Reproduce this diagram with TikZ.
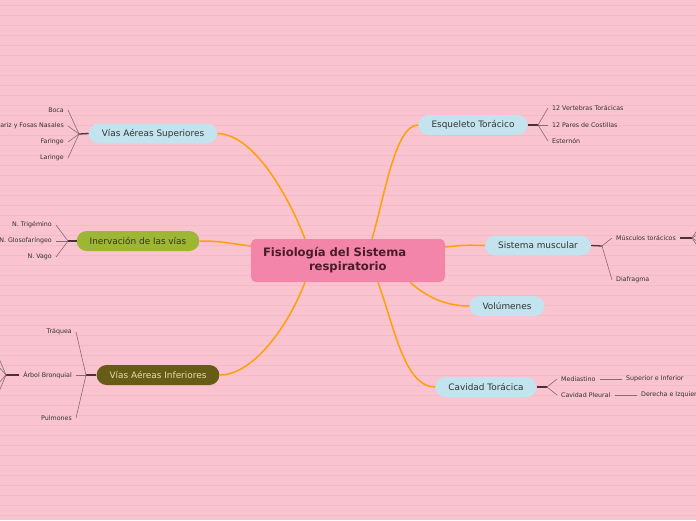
\documentclass[tikz,border=0pt]{standalone}
\usepackage{fontspec}
\setmainfont{DejaVu Sans}
\usetikzlibrary{calc}

\definecolor{bgpink}{HTML}{F9C3CF}
\definecolor{stripe}{HTML}{F4BAC8}
\definecolor{branchorange}{HTML}{FFA008}
\definecolor{rootpink}{HTML}{F285A9}
\definecolor{roottext}{HTML}{4A1C28}
\definecolor{paleblue}{HTML}{C3E4EE}
\definecolor{leafgreen}{HTML}{9DB634}
\definecolor{olive}{HTML}{675C16}
\definecolor{olivetext}{HTML}{E6DDA8}
\definecolor{inkdark}{HTML}{333333}
\definecolor{stubdark}{HTML}{4B3038}
\definecolor{twiggray}{HTML}{8A6A72}

\tikzset{
  topic/.style={rounded corners=10pt, fill=paleblue, minimum height=20pt, inner xsep=13pt, inner ysep=0pt,
    font=\fontsize{8.9}{10}\selectfont, text=inkdark},
  leaf/.style={inner xsep=4pt, inner ysep=1pt, font=\fontsize{6.3}{7}\selectfont, text=inkdark},
  branch/.style={draw=branchorange, line width=1.5pt},
  stub/.style={draw=stubdark, line width=1.3pt},
  twig/.style={draw=twiggray, line width=0.6pt},
}

\begin{document}
\begin{tikzpicture}[x=1pt,y=-1pt]
  \useasboundingbox (0,0) rectangle (696,520);
  \clip (0,0) rectangle (696,520);
  \fill[bgpink] (0,0) rectangle (696,520);
  \foreach \y in {5,15,...,515}
    \draw[stripe, line width=0.5pt] (0,\y) -- (696,\y);

  \node[rounded corners=5pt, fill=rootpink, minimum height=43pt, text width=170pt, inner xsep=12pt,
    align=left, text=roottext, font=\bfseries\fontsize{11.6}{14}\selectfont] (root) at (348,260.5)
    {Fisiología del Sistema\\\hspace*{46pt}respiratorio};

  \node[topic] (esq) at (473,125) {Esqueleto Torácico};
  \node[topic] (musc) at (538,245.5) {Sistema muscular};
  \node[topic] (vol) at (507,306) {Volúmenes};
  \node[topic] (cav) at (486,387) {Cavidad Torácica};
  \node[topic] (sup) at (153,133.5) {Vías Aéreas Superiores};
  \node[topic, fill=leafgreen] (inerv) at (138,241) {Inervación de las vías};
  \node[topic, fill=olive, text=olivetext] (inf) at (158,375) {Vías Aéreas Inferiores};

  \draw[branch] ([xshift=-43pt]root.north) .. controls (290,200) and (255,134) .. (sup.east);
  \draw[branch] ([xshift=24pt]root.north) .. controls (385,195) and (395,125) .. (esq.west);
  \draw[branch] ([yshift=14.5pt]root.west) .. controls (226,243) and (222,241) .. (inerv.east);
  \draw[branch] ([xshift=-43pt]root.south) .. controls (290,322) and (255,375) .. (inf.east);
  \draw[branch] ([yshift=13.5pt]root.east) .. controls (465,245) .. (musc.west);
  \draw[branch] ([xshift=62pt]root.south) .. controls (430,300) and (450,306) .. (vol.west);
  \draw[branch] ([xshift=30pt]root.south) .. controls (395,330) and (405,387) .. (cav.west);

  % Vias Aereas Superiores
  \coordinate (supfork) at (79,134);
  \node[leaf, anchor=east] (boca) at (68,110) {Boca};
  \node[leaf, anchor=east] (nariz) at (68,126) {Nariz y Fosas Nasales};
  \node[leaf, anchor=east] (faringe) at (68,142) {Faringe};
  \node[leaf, anchor=east] (laringe) at (68,158) {Laringe};
  \draw[stub] (sup.west) -- (supfork);
  \foreach \n in {boca,nariz,faringe,laringe}
    \draw[twig] (supfork) -- (\n.east);

  % Inervacion
  \coordinate (inervfork) at (68,241);
  \node[leaf, anchor=east] (trigemino) at (56,225) {N. Trigémino};
  \node[leaf, anchor=east] (glosofaringeo) at (56,241) {N. Glosofaríngeo};
  \node[leaf, anchor=east] (vago) at (56,257) {N. Vago};
  \draw[stub] (inerv.west) -- (inervfork);
  \foreach \n in {trigemino,glosofaringeo,vago}
    \draw[twig] (inervfork) -- (\n.east);

  % Vias Aereas Inferiores
  \coordinate (inffork) at (86,375);
  \node[leaf, anchor=east] (traquea) at (76,332) {Tráquea};
  \node[leaf, anchor=east] (arbol) at (76,375) {Árbol Bronquial};
  \node[leaf, anchor=east] (pulmones) at (76,418) {Pulmones};
  \draw[stub] (inf.west) -- (inffork);
  \foreach \n in {traquea,arbol,pulmones}
    \draw[twig] (inffork) -- (\n.east);
  \coordinate (arbolfork) at (6,375);
  \draw[stub] (arbol.west) -- (arbolfork);
  \foreach \y in {356,366,384,394}
    \draw[twig] (arbolfork) -- (-2,\y);

  % Esqueleto Toracico
  \coordinate (esqfork) at (538,125);
  \node[leaf, anchor=west] (vertebras) at (548,108) {12 Vertebras Torácicas};
  \node[leaf, anchor=west] (costillas) at (548,125) {12 Pares de Costillas};
  \node[leaf, anchor=west] (esternon) at (548,141) {Esternón};
  \draw[stub] (esq.east) -- (esqfork);
  \foreach \n in {vertebras,costillas,esternon}
    \draw[twig] (esqfork) -- (\n.west);

  % Sistema muscular
  \coordinate (muscfork) at (602,246);
  \node[leaf, anchor=west] (musculos) at (612,238) {Músculos torácicos};
  \node[leaf, anchor=west] (diafragma) at (612,280) {Diafragma};
  \draw[stub] (musc.east) -- (muscfork);
  \foreach \n in {musculos,diafragma}
    \draw[twig] (muscfork) -- (\n.west);
  \coordinate (musculosfork) at (692,238);
  \draw[stub] (musculos.east) -- (musculosfork);
  \foreach \y in {226,233,243,250}
    \draw[twig] (musculosfork) -- (700,\y);

  % Cavidad Toracica
  \coordinate (cavfork) at (547,387);
  \node[leaf, anchor=west] (mediastino) at (557,379) {Mediastino};
  \node[leaf, anchor=west] (pleural) at (557,395) {Cavidad Pleural};
  \node[leaf, anchor=west] (supinf) at (622,379) {Superior e Inferior};
  \node[leaf, anchor=west] (derizq) at (637,395) {Derecha e Izquierda};
  \draw[stub] (cav.east) -- (cavfork);
  \foreach \n in {mediastino,pleural}
    \draw[twig] (cavfork) -- (\n.west);
  \draw[twig] (mediastino.east) -- (supinf.west);
  \draw[twig] (pleural.east) -- (derizq.west);
\end{tikzpicture}
\end{document}
